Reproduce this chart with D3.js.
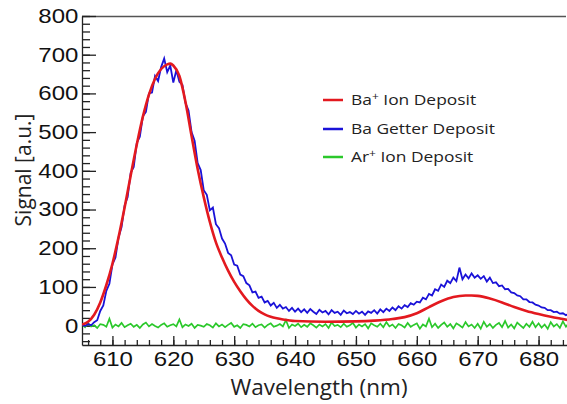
<!DOCTYPE html>
<html>
<head>
<meta charset="utf-8">
<script src="https://cdn.jsdelivr.net/npm/d3@7"></script>
<style>
  body { margin: 0; background: #fff; }
  .tick text { font-family: "Liberation Sans", Arial, sans-serif; font-size: 20px; fill: #111; }
  .title { font-family: "Open Sans", sans-serif; fill: #222; }
  .legend text { font-family: "Open Sans", sans-serif; font-size: 14.5px; fill: #222; }
</style>
</head>
<body>
<div id="chart"></div>
<script>
const width = 567, height = 404;

// wavelength grid for the measured spectra (0.5 nm steps)
const wlStart = 605, wlStep = 0.5;

// Ba getter deposit (noisy measurement)
const baGetter = [2,-1,4,1,9,14,38,52,90,108,158,176,228,255,310,332,395,410,472,488,
  541,552,600,602,645,632,668,690,655,672,628,660,630,622,575,556,500,478,420,402,
  350,338,298,305,262,252,225,212,188,182,158,155,132,128,110,104,86,88,72,75,
  60,64,52,59,46,54,44,48,38,46,36,44,35,42,33,43,36,30,41,34,
  38,29,40,33,36,28,39,32,35,30,38,31,36,28,37,33,40,31,42,35,
  44,38,47,40,50,44,53,48,58,54,62,60,72,68,82,78,94,90,106,100,
  116,110,124,115,150,120,132,122,135,124,130,121,128,114,124,110,112,102,104,94,
  95,86,84,78,76,68,68,61,60,54,52,47,46,40,40,35,36,31,32,27,30];

// Ar+ ion deposit (flat, noise only)
const arIon = [3,-4,6,-2,1,-6,4,2,-3,18,-5,3,-2,7,-4,1,5,-3,2,-6,
  3,8,-2,4,-1,-5,2,6,-3,1,4,-2,16,-4,3,-1,5,-6,2,0,
  -3,4,1,-5,6,-2,3,-4,2,7,-3,1,-6,4,2,-2,5,-4,1,3,
  -5,2,6,-3,0,4,-2,14,-6,3,-1,5,-4,2,-3,6,1,-5,3,-2,
  4,-6,8,-1,2,-4,5,-3,1,7,-5,3,-2,4,-7,6,1,-3,5,-4,
  9,-2,3,-6,4,1,-5,7,-3,2,6,-8,3,-2,18,-4,5,-6,2,8,
  -3,4,-7,6,1,-5,9,-2,3,-6,5,-8,10,-3,4,-6,2,7,-4,12,
  -5,3,-7,8,1,-6,5,-3,10,-4,6,-5,3,-8,9,-2,4,-6,11,-3,7];

// Ba+ ion deposit (smooth fitted curve)
const baIonWl  = [605,606,607,608,609,610,611,612,613,614,615,616,617,618,619,619.5,620,621,622,623,
  624,625,626,627,628,629,630,631,632,633,634,635,636,637,638,640,645,650,653,656,
  658,660,662,664,666,668,669,670,672,674,676,678,680,682,684,685];
const baIonSig = [3,10,28,60,105,160,228,305,388,468,540,597,638,663,675,677,672,645,578,490,
  405,332,268,215,176,142,113,89,68,51,38,29,23,19,16,12,10,11,13,17,
  22,32,48,63,74,78,78,77,70,60,48,38,30,23,17,14];

const legendLabels = [["Ba", "+", " Ion Deposit"], ["Ba Getter Deposit", "", ""], ["Ar", "+", " Ion Deposit"]];
const colors = ["#e3191f", "#1a12d8", "#2bc82b"];

const svg = d3.select("#chart").append("svg")
  .attr("width", width)
  .attr("height", height);

const x = d3.scaleLinear().domain([605, 685]).range([82, 569]);
const y = d3.scaleLinear().domain([-50, 800]).range([345, 16]);

svg.append("clipPath").attr("id", "clip")
  .append("rect").attr("x", 82).attr("y", 16).attr("width", 487).attr("height", 329);

// top frame line
svg.append("line")
  .attr("x1", 82).attr("x2", 566).attr("y1", 16.5).attr("y2", 16.5)
  .style("stroke", "#555").style("stroke-width", 1.5);

// ---- axes: minor ticks first, then majors with labels ----
const yAxisG = svg.append("g").attr("transform", "translate(82,0)");
yAxisG.append("g")
  .call(d3.axisLeft(y).tickValues(d3.range(-40, 801, 20)).tickSizeInner(-8).tickSizeOuter(0).tickFormat(""))
  .call(g => g.select(".domain").remove());
yAxisG.append("g")
  .call(d3.axisLeft(y).tickValues(d3.range(0, 801, 100)).tickSizeInner(-14).tickSizeOuter(0).tickPadding(3));
yAxisG.selectAll("line, path").style("stroke", "#222").style("stroke-width", 1.3);

const xAxisG = svg.append("g").attr("transform", "translate(0,345)");
xAxisG.append("g")
  .call(d3.axisBottom(x).tickValues(d3.range(606, 685, 2)).tickSizeInner(-5).tickSizeOuter(0).tickFormat(""))
  .call(g => g.select(".domain").remove());
xAxisG.append("g")
  .call(d3.axisBottom(x).tickValues(d3.range(610, 681, 10)).tickSizeInner(-9).tickSizeOuter(0).tickPadding(7));
xAxisG.selectAll("line, path").style("stroke", "#222").style("stroke-width", 1.3);

// the reference lettering is a bit wide: stretch tick labels horizontally
svg.selectAll(".tick text").attr("transform", "scale(1.2,1)");

// ---- data lines ----
const plot = svg.append("g").attr("clip-path", "url(#clip)");

const noisyLine = d3.line()
  .x((d, i) => x(wlStart + i * wlStep))
  .y(d => y(d));

plot.append("path")
  .datum(arIon)
  .attr("d", noisyLine)
  .style("fill", "none").style("stroke", colors[2]).style("stroke-width", 1.7);

plot.append("path")
  .datum(baGetter)
  .attr("d", noisyLine)
  .style("fill", "none").style("stroke", colors[1]).style("stroke-width", 1.8);

const smoothLine = d3.line()
  .x(d => x(d[0]))
  .y(d => y(d[1]))
  .curve(d3.curveMonotoneX);

plot.append("path")
  .datum(baIonWl.map((w, i) => [w, baIonSig[i]]))
  .attr("d", smoothLine)
  .style("fill", "none").style("stroke", colors[0]).style("stroke-width", 2.6);

// ---- legend ----
const legend = svg.append("g").attr("class", "legend");
const legendY = [100, 129, 157];
legendLabels.forEach((lab, i) => {
  legend.append("line")
    .attr("x1", 323).attr("x2", 343)
    .attr("y1", legendY[i]).attr("y2", legendY[i])
    .style("stroke", colors[i]).style("stroke-width", 2.5);
  const t = legend.append("text")
    .attr("transform", `translate(351,${legendY[i] + 5})scale(1.2,1)`);
  t.append("tspan").text(lab[0]);
  if (lab[1]) t.append("tspan").text(lab[1]).attr("dy", -5).style("font-size", "10px");
  if (lab[2]) t.append("tspan").text(lab[2]).attr("dy", lab[1] ? 5 : 0);
});

// ---- axis titles ----
svg.append("text").attr("class", "title")
  .attr("x", 319).attr("y", 395)
  .attr("text-anchor", "middle")
  .style("font-size", "22.5px")
  .text("Wavelength (nm)");

svg.append("text").attr("class", "title")
  .attr("transform", "translate(31,170)rotate(-90)")
  .attr("text-anchor", "middle")
  .style("font-size", "21px")
  .text("Signal [a.u.]");
</script>
</body>
</html>
